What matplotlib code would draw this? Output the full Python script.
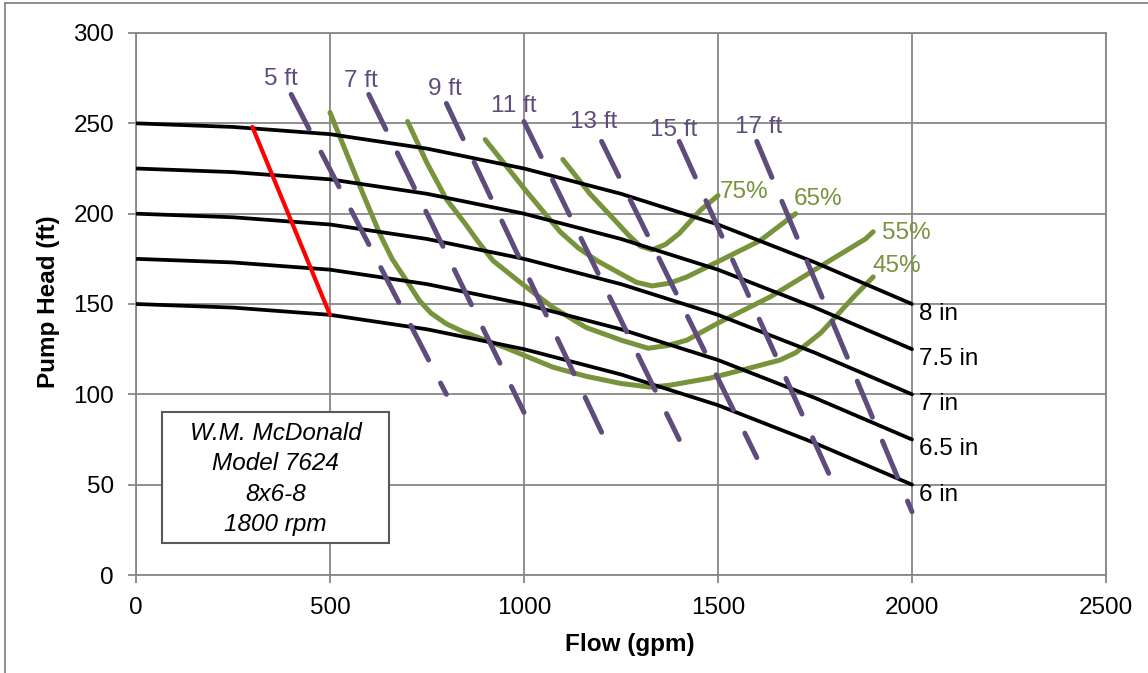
import matplotlib
matplotlib.use("Agg")
import matplotlib.pyplot as plt
from matplotlib.patches import Rectangle
from matplotlib.lines import Line2D

plt.rcParams['font.family'] = ['Liberation Sans', 'DejaVu Sans']

# pump curves (impeller diameters)
flow_pts = [0, 250, 500, 750, 1000, 1250, 1500, 1750, 2000]
head_8 = [250, 248, 244, 236, 225, 211, 194, 173, 150]
head_75 = [225, 223, 219, 211, 200, 186, 169, 148, 125]
head_7 = [200, 198, 194, 186, 175, 161, 144, 123, 100]
head_65 = [175, 173, 169, 161, 150, 136, 119, 98, 75]
head_6 = [150, 148, 144, 136, 125, 111, 94, 73, 50]
pump_labels = ['8 in', '7.5 in', '7 in', '6.5 in', '6 in']

# efficiency curves
eff_45_q = [500, 585, 630, 660, 700, 730, 760, 800, 845, 900, 950, 1075, 1160, 1250, 1325,
            1375, 1480, 1590, 1660, 1700, 1730, 1765, 1795, 1850, 1900]
eff_45_h = [256, 211, 188, 175, 162, 152, 145, 139, 134.5, 130, 126, 115, 110, 106, 104,
            105, 109, 115, 119, 123, 128, 134, 141, 154, 165]
eff_55_q = [700, 750, 800, 850, 880, 920, 990, 1075, 1160, 1250, 1320, 1370, 1420, 1505,
            1635, 1765, 1880, 1900]
eff_55_h = [251, 228, 208, 194, 185, 174, 162, 148, 137, 130, 125.5, 127, 130, 140,
            154, 171, 186, 190]
eff_65_q = [900, 1000, 1093, 1140, 1188, 1247, 1290, 1330, 1375, 1420, 1505, 1608, 1700]
eff_65_h = [241, 214, 190, 181, 174, 167, 162, 160, 161.5, 165, 174, 185, 200]
eff_75_q = [1100, 1170, 1240, 1270, 1300, 1330, 1365, 1400, 1455, 1500]
eff_75_h = [230, 211, 195, 188, 182, 180, 183, 189, 202, 210]
eff_labels = ['45%', '55%', '65%', '75%']

# NPSH required lines
npsh_labels = ['5 ft', '7 ft', '9 ft', '11 ft', '13 ft', '15 ft', '17 ft']
npsh_q_top = [400, 600, 800, 1000, 1200, 1400, 1600]
npsh_h_top = [266, 266, 261, 251, 240, 240, 240]
npsh_q_bot = [800, 1000, 1200, 1400, 1600, 1790, 2000]
npsh_h_bot = [100, 90, 79, 75, 65, 54, 35]

# minimum flow line
red_q = [300, 500]
red_h = [248, 144]

x_ticks = [0, 500, 1000, 1500, 2000, 2500]
y_ticks = [0, 50, 100, 150, 200, 250, 300]

purple = '#5F4B7C'
green = '#77933C'
grid_c = '#878787'
fs = 17.5

fig = plt.figure(figsize=(11.48, 6.73), dpi=100)
ax = fig.add_axes([136/1148, 1-575/673, 970/1148, 542/673])
px = 0.72  # points per pixel

for h, lab in zip([head_8, head_75, head_7, head_65, head_6], pump_labels):
    ax.plot(flow_pts, h, color='black', lw=2.7, solid_capstyle='round', zorder=4)
    ax.annotate(lab, (flow_pts[-1], h[-1]), xytext=(7*px, 1*px), textcoords='offset points',
                ha='left', va='top', fontsize=fs, color='black', zorder=6)

eff_q = [eff_45_q, eff_55_q, eff_65_q, eff_75_q]
eff_h = [eff_45_h, eff_55_h, eff_65_h, eff_75_h]
eff_offs = [(-1, 11), (9, -1), (-2, 15), (2, 4)]
for q, h, lab, off in zip(eff_q, eff_h, eff_labels, eff_offs):
    ax.plot(q, h, color=green, lw=3.6, solid_capstyle='round', solid_joinstyle='round', zorder=3)
    ax.annotate(lab, (q[-1], h[-1]), xytext=(off[0]*px, off[1]*px), textcoords='offset points',
                ha='left', va='center', fontsize=fs, color=green, zorder=6)

npsh_offs = [(-10, 15), (-8, 13), (-2, 14), (-10, 16), (-8, 19), (-6, 11), (2, 14)]
for i, lab in enumerate(npsh_labels):
    ax.plot([npsh_q_top[i], npsh_q_bot[i]], [npsh_h_top[i], npsh_h_bot[i]], color=purple,
            lw=3.6, linestyle=(0, (7.8, 5.2)), dash_capstyle='round', zorder=5)
    ax.annotate(lab, (npsh_q_top[i], npsh_h_top[i]),
                xytext=(npsh_offs[i][0]*px, npsh_offs[i][1]*px), textcoords='offset points',
                ha='center', va='center', fontsize=fs, color=purple, zorder=6)

ax.plot(red_q, red_h, color='#FF0000', lw=3.0, solid_capstyle='round', zorder=4)

ax.set_xlim(0, 2500)
ax.set_ylim(0, 300)
ax.set_xticks(x_ticks)
ax.set_yticks(y_ticks)
ax.grid(True, color=grid_c, lw=1.3)
ax.set_axisbelow(True)
for s in ax.spines.values():
    s.set_color(grid_c)
    s.set_linewidth(1.3)
ax.tick_params(axis='both', direction='out', length=5.8, width=1.3, color=grid_c,
               labelsize=fs, pad=10)

# info box
ax.add_patch(Rectangle((0.0268, 0.059), 0.234, 0.2417, transform=ax.transAxes,
                       facecolor='white', edgecolor='#595959', lw=1.5, zorder=7))
ax.text(0.1438, 0.177, 'W.M. McDonald\nModel 7624\n8x6-8\n1800 rpm', transform=ax.transAxes,
        ha='center', va='center', fontsize=fs, style='italic', linespacing=1.4, zorder=8)

fig.text(49/1148, 1-302/673, 'Pump Head (ft)', rotation=90, ha='center', va='center',
         fontsize=fs, fontweight='bold')
fig.text(630/1148, 1-645/673, 'Flow (gpm)', ha='center', va='center',
         fontsize=fs, fontweight='bold')

# outer chart frame (cropped)
fig.add_artist(Line2D([5/1148, 5/1148], [0, 1-3/673], transform=fig.transFigure, color=grid_c, lw=1.3))
fig.add_artist(Line2D([5/1148, 1], [1-3/673, 1-3/673], transform=fig.transFigure, color=grid_c, lw=1.3))

fig.savefig('out.png', dpi=100)
